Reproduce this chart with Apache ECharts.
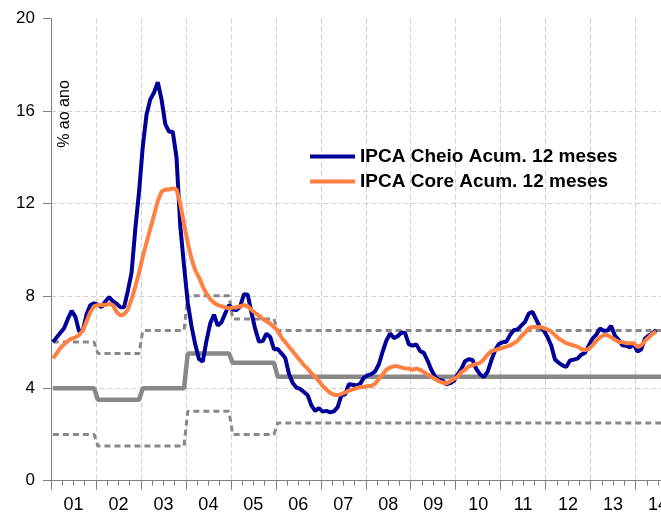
<!DOCTYPE html>
<html>
<head>
<meta charset="utf-8">
<script src="https://cdn.jsdelivr.net/npm/echarts@6/dist/echarts.min.js"></script>
<style>
* { margin: 0; padding: 0; }
body { background: #fff; }
#chart { width: 661px; height: 513px; }
</style>
</head>
<body>
<div id="chart"></div>
<script>
// mensal, jan/2001 .. jun/2014
var ipcaCheio = [
  6.0, 6.2, 6.4, 6.6, 7.0, 7.35, 7.1, 6.45, 6.5, 7.2, 7.6, 7.67,
  7.62, 7.51, 7.75, 7.95, 7.77, 7.66, 7.51, 7.5, 8.2, 9.0, 10.9, 12.5,
  14.47, 15.85, 16.5, 16.8, 17.24, 16.5, 15.43, 15.1, 15.1, 13.98, 11.02, 9.3,
  7.71, 6.69, 5.89, 5.26, 5.15, 6.06, 6.81, 7.18, 6.71, 6.86, 7.24, 7.6,
  7.41, 7.39, 7.54, 8.07, 8.05, 7.27, 6.57, 6.02, 6.04, 6.36, 6.22, 5.69,
  5.70, 5.51, 5.32, 4.63, 4.23, 4.03, 3.97, 3.84, 3.70, 3.26, 3.02, 3.14,
  2.99, 3.02, 2.96, 3.00, 3.18, 3.69, 3.74, 4.18, 4.15, 4.12, 4.19, 4.46,
  4.56, 4.61, 4.73, 5.04, 5.58, 6.06, 6.37, 6.17, 6.25, 6.41, 6.39, 5.90,
  5.84, 5.90, 5.61, 5.53, 5.20, 4.80, 4.50, 4.36, 4.34, 4.17, 4.22, 4.31,
  4.59, 4.83, 5.17, 5.26, 5.22, 4.84, 4.60, 4.49, 4.70, 5.20, 5.63, 5.91,
  5.99, 6.01, 6.30, 6.51, 6.55, 6.71, 6.87, 7.23, 7.31, 6.97, 6.64, 6.50,
  6.22, 5.85, 5.24, 5.10, 4.99, 4.92, 5.20, 5.24, 5.28, 5.45, 5.53, 5.84,
  6.15, 6.31, 6.59, 6.49, 6.50, 6.70, 6.27, 6.09, 5.86, 5.84, 5.77, 5.91,
  5.59, 5.68, 6.15, 6.28, 6.37, 6.52
];
var ipcaCore = [
  5.3, 5.5, 5.75, 5.9, 6.05, 6.15, 6.2, 6.3, 6.5, 6.9, 7.3, 7.55,
  7.6, 7.6, 7.6, 7.65, 7.6, 7.3, 7.15, 7.2, 7.4, 7.85, 8.4, 9.0,
  9.7, 10.3, 10.9, 11.5, 12.1, 12.5, 12.6, 12.6, 12.65, 12.6, 12.0, 11.1,
  10.3, 9.6, 9.1, 8.8, 8.4, 8.1, 7.85, 7.7, 7.6, 7.55, 7.5, 7.45,
  7.5, 7.5, 7.55, 7.6, 7.55, 7.4, 7.25, 7.15, 7.0, 6.9, 6.8, 6.65,
  6.5, 6.2, 6.0, 5.8, 5.6, 5.4, 5.2, 5.0, 4.85, 4.65, 4.5, 4.3,
  4.1, 3.95, 3.8, 3.72, 3.7, 3.75, 3.82, 3.9, 3.95, 4.0, 4.05, 4.05,
  4.1, 4.1, 4.2, 4.4, 4.6, 4.8, 4.9, 4.95, 4.95, 4.9, 4.85, 4.85,
  4.8, 4.85, 4.8, 4.7, 4.6, 4.5, 4.4, 4.3, 4.25, 4.2, 4.3, 4.4,
  4.5, 4.7, 4.8, 4.95, 5.0, 5.05, 5.1, 5.25, 5.45, 5.6, 5.65, 5.7,
  5.75, 5.8, 5.85, 5.95, 6.05, 6.25, 6.4, 6.6, 6.65, 6.65, 6.65, 6.6,
  6.55, 6.45, 6.3, 6.15, 6.05, 5.95, 5.9, 5.85, 5.8, 5.7, 5.65, 5.7,
  5.85, 6.05, 6.2, 6.3, 6.3, 6.2, 6.1, 6.0, 6.0, 5.95, 5.95, 5.95,
  5.8, 5.85, 6.05, 6.2, 6.35, 6.45
];
// metas anuais 2001..2014
var metaCentro   = [4.0, 3.5, 4.0, 5.5, 5.1, 4.5, 4.5, 4.5, 4.5, 4.5, 4.5, 4.5, 4.5, 4.5];
var metaSuperior = [6.0, 5.5, 6.5, 8.0, 7.0, 6.5, 6.5, 6.5, 6.5, 6.5, 6.5, 6.5, 6.5, 6.5];
var metaInferior = [2.0, 1.5, 1.5, 3.0, 2.0, 2.5, 2.5, 2.5, 2.5, 2.5, 2.5, 2.5, 2.5, 2.5];
var anos = ['01', '02', '03', '04', '05', '06', '07', '08', '09', '10', '11', '12', '13', '14'];

var fonte = 'Liberation Sans';

function mensal(arr) {
  return arr.map(function (v, i) { return [i + 0.5, v]; });
}
function metaMensal(arr) {
  var out = [];
  for (var m = 0; m < arr.length * 12; m++) {
    out.push([m + 0.5, arr[Math.floor(m / 12)]]);
  }
  return out;
}

var myChart = echarts.init(document.getElementById('chart'));
myChart.setOption({
  animation: false,
  // o grafico original passa da borda direita (2014 cortado)
  grid: { left: 51, top: 18.5, width: 629.5, height: 462.2, outerBoundsMode: 'none' },
  legend: {
    orient: 'vertical',
    left: 305,
    top: 142,
    icon: 'rect',
    itemWidth: 45,
    itemHeight: 4,
    itemGap: 6,
    data: ['IPCA Cheio Acum. 12 meses', 'IPCA Core Acum. 12 meses'],
    textStyle: { fontFamily: fonte, fontSize: 19, fontWeight: 'bold', color: '#000' }
  },
  graphic: [{
    type: 'text',
    x: 65,
    y: 114,
    rotation: Math.PI / 2,
    style: {
      text: '% ao ano',
      font: '16px "Liberation Sans"',
      fill: '#000',
      align: 'center',
      verticalAlign: 'middle'
    }
  }],
  xAxis: [
    {
      type: 'value',
      min: 0,
      max: 168,
      interval: 12,
      axisLine: { lineStyle: { color: '#808080' } },
      axisTick: { length: 9, lineStyle: { color: '#808080' } },
      minorTick: { show: true, splitNumber: 4, length: 5, lineStyle: { color: '#808080' } },
      axisLabel: { show: false },
      splitLine: {
        show: true,
        showMinLine: false,
        lineStyle: { color: '#cfcfcf', type: [5, 3] }
      }
    },
    {
      // so para os rotulos dos anos, no meio de cada ano
      type: 'category',
      position: 'bottom',
      data: anos,
      boundaryGap: true,
      axisLine: { show: false },
      axisTick: { show: false },
      splitLine: { show: false },
      axisLabel: {
        interval: 0,
        margin: 15,
        fontFamily: fonte,
        fontSize: 18,
        color: '#000'
      }
    }
  ],
  yAxis: {
    type: 'value',
    min: 0,
    max: 20,
    interval: 4,
    axisLine: { show: true, lineStyle: { color: '#808080' } },
    axisTick: { show: true, length: 8, lineStyle: { color: '#808080' } },
    axisLabel: { margin: 16, fontFamily: fonte, fontSize: 17, color: '#000' },
    splitLine: {
      show: true,
      showMinLine: false,
      showMaxLine: false,
      lineStyle: { color: '#cfcfcf', type: [5, 3] }
    }
  },
  series: [
    {
      name: 'Meta superior',
      type: 'line',
      data: metaMensal(metaSuperior),
      symbol: 'none',
      lineStyle: { color: '#888888', width: 3, type: [6, 4] }
    },
    {
      name: 'Meta inferior',
      type: 'line',
      data: metaMensal(metaInferior),
      symbol: 'none',
      lineStyle: { color: '#888888', width: 3, type: [6, 4] }
    },
    {
      name: 'Meta',
      type: 'line',
      data: metaMensal(metaCentro),
      symbol: 'none',
      lineStyle: { color: '#888888', width: 4.5 }
    },
    {
      name: 'IPCA Cheio Acum. 12 meses',
      type: 'line',
      data: mensal(ipcaCheio),
      symbol: 'none',
      itemStyle: { color: '#000099' },
      lineStyle: { color: '#000099', width: 4 }
    },
    {
      name: 'IPCA Core Acum. 12 meses',
      type: 'line',
      data: mensal(ipcaCore),
      symbol: 'none',
      itemStyle: { color: '#ff8040' },
      lineStyle: { color: '#ff8040', width: 4 }
    }
  ]
});
</script>
</body>
</html>
